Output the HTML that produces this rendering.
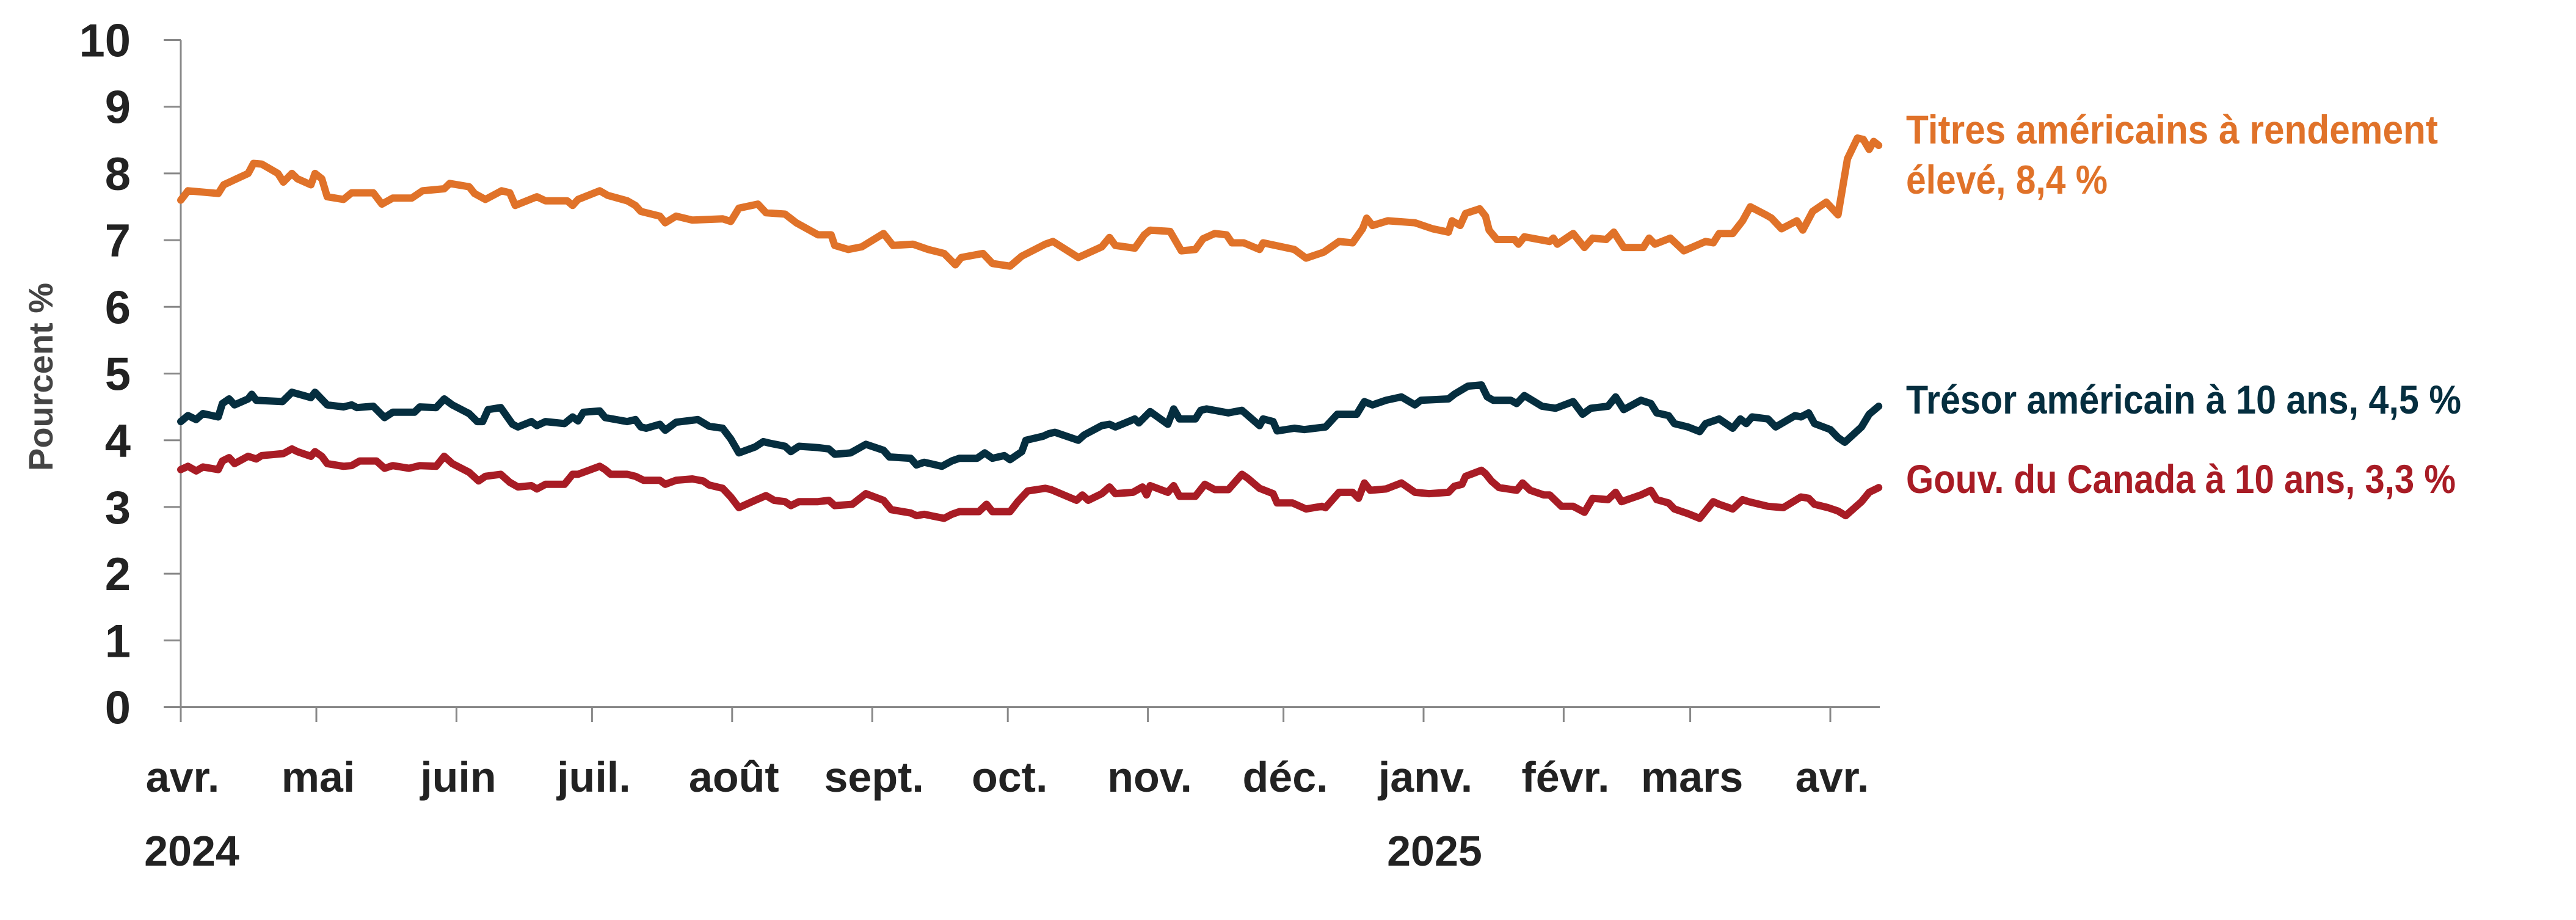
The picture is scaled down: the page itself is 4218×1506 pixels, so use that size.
<!DOCTYPE html>
<html><head><meta charset="utf-8"><style>
html,body{margin:0;padding:0;background:#fff;}
svg{display:block;font-family:"Liberation Sans",sans-serif;}
</style></head><body>
<svg id="chart" width="4218" height="1506" viewBox="0 0 4218 1506" xmlns="http://www.w3.org/2000/svg">
<g id="axes"></g>
<g id="series"></g>
<text transform="translate(86,617) rotate(-90)" text-anchor="middle" font-size="56" font-weight="bold" fill="#444">Pourcent  %</text>
<text fill="#E07229" font-size="66" font-weight="bold"><tspan x="3121" y="235" textLength="871" lengthAdjust="spacingAndGlyphs">Titres américains à rendement</tspan><tspan x="3121" y="317" textLength="330" lengthAdjust="spacingAndGlyphs">élevé, 8,4 %</tspan></text>
<text fill="#052E3F" font-size="66" font-weight="bold" x="3121" y="677" textLength="909" lengthAdjust="spacingAndGlyphs">Trésor américain à 10 ans, 4,5 %</text>
<text fill="#A81C25" font-size="66" font-weight="bold" x="3121" y="807" textLength="900" lengthAdjust="spacingAndGlyphs">Gouv. du Canada à 10 ans, 3,3 %</text>
</svg>
<script>
const yTicks=[0,1,2,3,4,5,6,7,8,9,10];
const monthLabels=["avr.","mai","juin","juil.","août","sept.","oct.","nov.","déc.","janv.","févr.","mars","avr."];
const monthDays=[0,30,61,91,122,153,183,214,244,275,306,334,365];
const yearLabels=["2024","2025"];
const yearDays=[0,275];
const hyDays=[0,1.6,8.3,9.5,14.9,16.1,17.9,21.5,22.7,24.6,25.8,28.8,29.7,31.2,32.4,36,37.8,42.6,44.5,46.9,51.1,53.5,58.3,59.5,63.8,65,67.4,71,72.8,74,78.8,80.7,85.5,86.7,87.9,92.7,94.5,98.8,100.6,101.8,106,107.2,109.6,113.2,119.9,121.7,123.5,127.7,129.5,133.7,136.2,141,143.9,144.7,147.7,150.7,155.5,157.6,162,165.4,168.9,171.4,172.7,177.5,179.6,183.5,186.1,191.3,193,198.6,203.8,205.5,206.8,211.1,213.2,214.5,218.9,221.4,224.5,226.2,228.8,231.4,232.6,235.2,238.7,239.5,246.4,249,252.9,256.3,259.3,261.5,262.4,263.7,267.1,273.1,277,280.5,281.3,283.1,284.3,287.4,288.7,289.5,291.2,295.1,296,297.3,302.9,303.7,304.6,308.1,310.6,312.4,315.4,317.1,319.3,323.6,324.9,326.2,329.6,332.6,337.4,339.1,340.4,343.4,345.6,347.3,350.7,352,354.2,357.6,358.9,361.1,364.1,366.7,368.8,371,372.3,373.6,374.6,375.7];
const hyValues=[7.6,7.74,7.7,7.83,8.0,8.15,8.14,8.0,7.87,8.0,7.92,7.83,8.0,7.92,7.65,7.61,7.71,7.71,7.54,7.63,7.63,7.74,7.77,7.85,7.8,7.7,7.61,7.74,7.71,7.52,7.65,7.59,7.59,7.52,7.61,7.74,7.67,7.59,7.52,7.43,7.36,7.26,7.36,7.3,7.32,7.28,7.48,7.54,7.41,7.39,7.26,7.08,7.08,6.92,6.86,6.9,7.1,6.92,6.94,6.86,6.8,6.63,6.74,6.8,6.65,6.61,6.76,6.94,6.98,6.74,6.9,7.04,6.92,6.88,7.08,7.15,7.13,6.84,6.86,7.02,7.1,7.08,6.96,6.96,6.86,6.96,6.86,6.73,6.82,6.98,6.96,7.17,7.33,7.22,7.29,7.26,7.17,7.12,7.29,7.22,7.4,7.47,7.36,7.15,7.01,7.01,6.94,7.05,6.98,7.03,6.94,7.1,6.89,7.03,7.01,7.12,6.89,6.89,7.03,6.94,7.03,6.84,6.98,6.96,7.1,7.1,7.29,7.5,7.38,7.33,7.17,7.29,7.15,7.43,7.57,7.38,8.22,8.53,8.51,8.36,8.48,8.42];
const ustDays=[0,1.6,3.4,4.9,8.3,9.2,10.7,11.9,14.9,15.7,16.7,22.5,24.6,28.8,29.7,32.4,36,37.8,39,42.6,45.1,46.9,51.7,52.9,56.5,58.3,60.1,63.8,65.6,66.8,68,70.8,73.4,74.6,77.6,78.8,80.7,84.9,86.7,87.9,89.1,92.7,93.9,98.8,100.6,101.8,103,106,107.2,109.6,114.4,116.9,119.9,121.7,123.5,127.1,128.9,130.1,133.7,135,136.8,141,143.4,144.7,148.2,151.6,155.5,156.8,161.5,162.8,164.5,168.4,170.6,172.3,176.2,177.9,179.6,182.2,183.5,186.1,187,190.8,192.1,193.4,198.6,199.9,203.8,205.5,206.8,211.1,212,214.5,218.4,219.7,221,224.5,225.7,227,231.8,234.8,238.7,239.5,241.7,242.6,246.4,248.6,253.3,255.9,260.2,261.9,263.7,266.7,270.1,273.1,274.4,280.5,281.8,284.8,287.8,289.1,290.4,294.3,295.6,297.3,301.2,304.2,308.1,310.2,312,315.8,317.5,319.3,323.1,325.3,326.6,329.2,330.5,333.5,336.1,337.4,340.4,343.4,345.1,346.4,347.7,351.2,352.9,357.2,358.5,360.2,361.5,365,366.7,368.2,371.9,373.6,375.7];
const ustValues=[4.28,4.37,4.31,4.4,4.35,4.55,4.62,4.53,4.62,4.69,4.6,4.58,4.72,4.64,4.72,4.53,4.5,4.53,4.49,4.51,4.34,4.42,4.42,4.5,4.49,4.62,4.53,4.4,4.28,4.28,4.46,4.49,4.24,4.2,4.28,4.22,4.28,4.25,4.35,4.29,4.42,4.44,4.34,4.28,4.31,4.2,4.18,4.24,4.15,4.27,4.31,4.21,4.18,4.02,3.81,3.9,3.98,3.96,3.91,3.83,3.91,3.89,3.87,3.79,3.81,3.94,3.85,3.75,3.73,3.63,3.67,3.61,3.69,3.73,3.73,3.81,3.73,3.77,3.71,3.83,4.0,4.06,4.1,4.12,4.0,4.08,4.22,4.24,4.2,4.32,4.26,4.43,4.24,4.47,4.32,4.32,4.45,4.47,4.41,4.45,4.22,4.32,4.28,4.14,4.18,4.16,4.2,4.39,4.39,4.58,4.53,4.6,4.65,4.53,4.6,4.62,4.69,4.81,4.83,4.65,4.6,4.6,4.55,4.67,4.51,4.48,4.58,4.39,4.48,4.51,4.65,4.46,4.6,4.55,4.41,4.37,4.25,4.2,4.13,4.25,4.32,4.18,4.32,4.25,4.35,4.32,4.2,4.37,4.35,4.41,4.25,4.16,4.04,3.97,4.2,4.39,4.51];
const canDays=[0,1.6,3.4,4.9,8.3,9.2,10.7,11.9,14.9,16.7,17.9,22.7,24.6,25.8,28.8,29.7,31.2,32.4,36,37.8,39.6,43.3,45.1,46.9,50.5,52.9,56.5,58.3,60.1,63.8,65.9,67.4,70.8,72.8,74.6,77.6,78.8,80.7,84.9,86.7,87.9,92.7,93.9,95.1,98.8,100.6,102.4,106,107.2,109.6,113.2,115.6,116.9,119.9,121.7,123.5,127.1,129.5,131.3,133.7,135,136.8,141,143.4,144.7,148.6,151.6,155.5,157.2,161.5,162.8,164.5,168.9,170.6,172.3,176.6,178.3,179.6,183.5,185.2,187.4,191.3,192.6,198.2,199.5,200.8,203.8,205.5,206.8,210.7,212.8,213.7,214.5,218.4,219.7,221,224.5,226.6,228.8,231.8,234.8,236.1,238.7,241.7,242.6,246,249,252.5,253.3,256.3,259.3,260.6,261.9,263.2,266.7,270.1,273.1,276.2,280.5,281.8,283.5,284.3,287.8,288.7,290,291.7,295.6,296.9,298.6,301.6,302.9,305.5,308.1,310.6,312.4,315.8,317.5,318.8,323.1,325.3,326.6,329.2,330.5,333.5,336.1,337.4,339.1,340.4,343.4,345.6,346.9,351.2,354.6,358.5,360.2,361.5,364.5,366.7,368.4,371.9,373.6,375.7];
const canValues=[3.56,3.61,3.54,3.6,3.56,3.69,3.74,3.65,3.76,3.72,3.77,3.8,3.87,3.83,3.76,3.83,3.76,3.65,3.61,3.62,3.69,3.69,3.58,3.62,3.58,3.62,3.61,3.76,3.65,3.52,3.39,3.46,3.49,3.37,3.3,3.32,3.27,3.34,3.34,3.49,3.49,3.61,3.56,3.49,3.49,3.46,3.4,3.4,3.34,3.4,3.42,3.39,3.33,3.28,3.15,2.99,3.1,3.17,3.1,3.08,3.02,3.08,3.08,3.1,3.02,3.04,3.2,3.1,2.96,2.91,2.87,2.89,2.83,2.89,2.93,2.93,3.04,2.93,2.93,3.08,3.24,3.28,3.26,3.1,3.18,3.1,3.2,3.3,3.2,3.22,3.3,3.18,3.32,3.22,3.32,3.16,3.16,3.34,3.26,3.26,3.49,3.43,3.28,3.2,3.06,3.06,2.97,3.01,2.99,3.22,3.22,3.13,3.36,3.25,3.27,3.36,3.22,3.2,3.22,3.31,3.34,3.46,3.55,3.5,3.39,3.29,3.25,3.36,3.25,3.18,3.18,3.01,3.01,2.92,3.13,3.11,3.22,3.08,3.18,3.25,3.11,3.06,2.97,2.9,2.83,2.94,3.08,3.04,2.97,3.11,3.08,3.01,2.99,3.15,3.13,3.04,2.99,2.94,2.87,3.08,3.22,3.29];

const NS="http://www.w3.org/2000/svg";
const X0=296,PXDAY=7.4,Y0=1157.5,PXUNIT=109.2,XEND=3078;
function xs(d){return X0+d*PXDAY;}
function ys(v){return Y0-v*PXUNIT;}
function mk(tag,attrs,parent){const e=document.createElementNS(NS,tag);for(const k in attrs)e.setAttribute(k,attrs[k]);parent.appendChild(e);return e;}
const axes=document.getElementById('axes');
const series=document.getElementById('series');

let yAxis=mk('line',{x1:X0,y1:ys(10),x2:X0,y2:Y0,stroke:'#888','stroke-width':3},axes);


let xAxis=mk('line',{x1:X0,y1:Y0,x2:XEND,y2:Y0,stroke:'#888','stroke-width':3},axes);



yTicks.forEach(v=>{
  const t=mk('line',{x1:268,y1:ys(v),x2:X0,y2:ys(v),stroke:'#888','stroke-width':3},axes);
  
  
  const l=mk('text',{x:214,y:ys(v)+27,'text-anchor':'end','font-size':76,'font-weight':'bold',fill:'#222'},axes);
  
  
  l.textContent=String(v);
});
monthDays.forEach((d,i)=>{
  const t=mk('line',{x1:xs(d),y1:Y0,x2:xs(d),y2:1182,stroke:'#888','stroke-width':3},axes);
  
  
  const l=mk('text',{x:xs(d)+3,y:1296,'text-anchor':'middle','font-size':70,'font-weight':'bold',fill:'#222'},axes);
  
  
  l.textContent=monthLabels[i];
});
yearDays.forEach((d,i)=>{
  const l=mk('text',{x:xs(d)+18,y:1417,'text-anchor':'middle','font-size':70,'font-weight':'bold',fill:'#222'},axes);
  
  
  l.textContent=yearLabels[i];
});
function drawLine(days,vals,color,name){
  const pts=days.map((d,i)=>xs(d).toFixed(1)+','+ys(vals[i]).toFixed(1)).join(' ');
  const p=mk('polyline',{points:pts,fill:'none',stroke:color,'stroke-width':12,'stroke-linejoin':'round','stroke-linecap':'round'},series);
  
  
}
drawLine(hyDays,hyValues,'#E07229','line-high-yield');
drawLine(ustDays,ustValues,'#052E3F','line-us-treasury-10y');
drawLine(canDays,canValues,'#A81C25','line-canada-10y');
</script>
</body></html>
